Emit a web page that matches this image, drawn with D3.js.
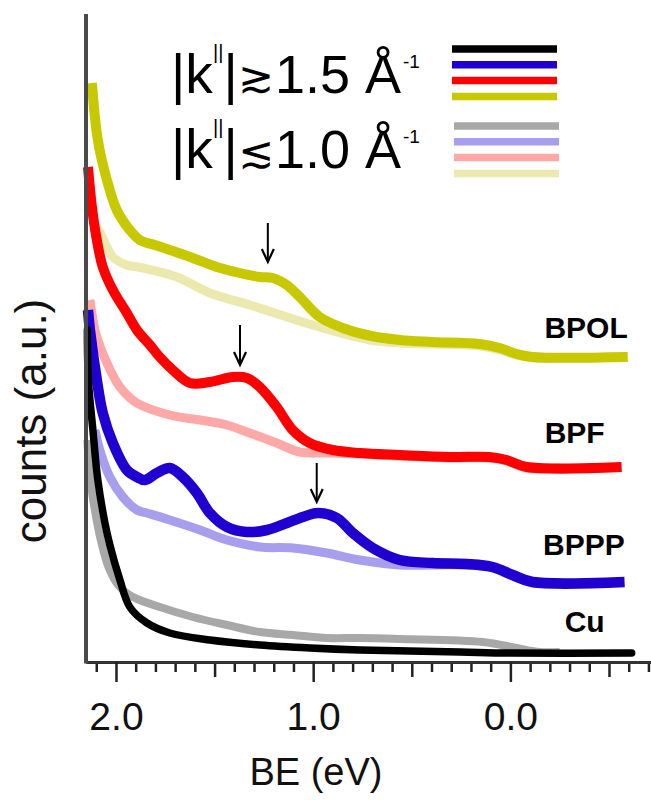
<!DOCTYPE html>
<html>
<head>
<meta charset="utf-8">
<script src="https://cdn.jsdelivr.net/npm/d3@7"></script>
<style>
  body { margin: 0; background: #fff; }
  svg { display: block; font-family: "Liberation Sans", Arial, sans-serif; }
</style>
</head>
<body>
<script>
"use strict";

// spectra, [BE (eV), counts (a.u.)]; hi = |k| >~ 1.5, lo = |k| <~ 1.0
var bpol_hi = [[2.122,57.9],[2.092,52.2],[2.046,48.2],[1.996,45.2],[1.930,43.2],[1.879,42.2],[1.803,41.7],[1.727,41.2],[1.610,40.4],[1.489,39.5],[1.372,38.9],[1.271,38.5],[1.205,38.4],[1.134,37.7],[1.068,36.5],[0.967,34.5],[0.850,33.4],[0.728,32.7],[0.561,32.2],[0.394,32.0],[0.156,31.8],[0.054,31.4],[-0.032,30.8],[-0.113,30.5],[-0.595,30.5]];
var bpol_lo = [[2.117,44.0],[2.082,43.0],[2.016,40.5],[1.945,39.7],[1.864,39.4],[1.691,38.5],[1.524,36.9],[1.321,35.7],[1.118,34.4],[0.916,33.2],[0.713,32.2],[0.561,31.9],[0.394,31.8],[0.156,31.6],[0.054,31.2],[-0.032,30.7],[-0.113,30.4],[-0.250,30.4]];
var bpf_hi = [[2.142,49.5],[2.122,45.5],[2.097,42.2],[2.067,39.5],[2.016,37.2],[1.945,34.9],[1.894,33.2],[1.828,31.7],[1.778,30.5],[1.712,29.2],[1.625,27.9],[1.524,28.0],[1.407,28.5],[1.336,28.4],[1.271,27.5],[1.185,25.5],[1.104,23.2],[1.018,21.9],[0.900,21.2],[0.764,20.9],[0.561,20.7],[0.308,20.5],[0.105,20.5],[0.019,20.2],[-0.083,19.5],[-0.564,19.5]];
var bpf_lo = [[2.132,36.2],[2.107,33.2],[2.092,32.2],[2.046,29.9],[1.980,27.5],[1.894,25.9],[1.727,24.7],[1.574,24.2],[1.437,23.7],[1.336,23.0],[1.185,21.9],[1.068,21.0],[0.916,20.9],[0.764,20.8],[0.561,20.6],[0.308,20.4],[0.105,20.4],[0.019,20.1],[-0.083,19.4],[-0.250,19.4]];
var bppp_hi = [[2.142,35.2],[2.132,33.2],[2.097,28.2],[2.067,24.9],[2.016,21.9],[1.945,19.2],[1.894,18.5],[1.853,18.2],[1.793,18.9],[1.727,19.4],[1.661,18.5],[1.590,16.9],[1.524,14.9],[1.437,13.5],[1.336,13.0],[1.234,13.2],[1.133,13.9],[1.052,14.5],[0.976,14.9],[0.880,14.4],[0.799,12.9],[0.698,11.4],[0.561,10.2],[0.394,9.9],[0.222,9.8],[0.090,9.5],[-0.012,8.7],[-0.113,8.0],[-0.579,8.0]];
var bppp_lo = [[2.107,23.2],[2.082,21.2],[2.031,18.5],[1.965,16.5],[1.894,15.2],[1.843,14.9],[1.727,14.2],[1.574,13.2],[1.437,12.2],[1.270,11.5],[1.103,11.4],[0.931,10.9],[0.764,10.2],[0.561,9.7],[0.394,9.7],[0.222,9.7],[0.090,9.4],[-0.012,8.6],[-0.113,7.9],[-0.250,7.9]];
var cu_hi = [[2.145,33.2],[2.140,28.2],[2.117,23.2],[2.092,18.2],[2.056,13.9],[2.031,11.7],[1.980,8.2],[1.930,5.5],[1.843,3.9],[1.727,2.9],[1.524,2.2],[1.270,1.7],[1.017,1.4],[0.764,1.2],[0.256,1.0],[0.004,0.9],[-0.615,0.9]];
var cu_lo = [[2.145,22.2],[2.132,18.6],[2.107,15.2],[2.077,12.2],[2.036,9.4],[1.985,7.6],[1.914,6.5],[1.778,5.5],[1.610,4.5],[1.437,3.7],[1.270,3.0],[1.103,2.7],[0.931,2.4],[0.764,2.4],[0.561,2.3],[0.140,2.0],[-0.032,1.4],[-0.148,1.0],[-0.250,1.0]];

// sample names and where their labels sit (right end, BE / counts)
var samples = ['BPOL', 'BPF', 'BPPP', 'Cu'];
var label_be = [-0.595, -0.478, -0.580, -0.478];
var label_counts = [32.4, 21.9, 10.7, 3.0];

// arrows marking the interface state: BE, top and tip in counts
var arrow_be = [1.230, 1.371, 0.982];
var arrow_top = [43.9, 33.7, 19.9];
var arrow_tip = [40.0, 29.7, 16.0];

var colors_hi = ['#000000', '#1f00d0', '#ff0000', '#c8c800'];
var colors_lo = ['#a8a8a8', '#a89eee', '#ffa8a8', '#ece9ae'];

var x_major = [2.0, 1.0, 0.0];

function draw() {
  var width = 651,
    height = 800;

  var svg = d3.select('body').append('svg')
    .attr('width', width)
    .attr('height', height);

  var x = d3.scaleLinear()
    .domain([2.152, -0.713])
    .range([86, 651]);

  var y = d3.scaleLinear()
    .domain([0, 65])
    .range([662, 12]);

  var line = d3.line()
    .x(d => x(d[0]))
    .y(d => y(d[1]))
    .curve(d3.curveCatmullRom.alpha(0.5));

  // curves: pale ones underneath, then the dark ones
  var lo = [
    {data: bpol_lo, color: colors_lo[3], w: 9},
    {data: bpf_lo, color: colors_lo[2], w: 9},
    {data: bppp_lo, color: colors_lo[1], w: 9},
    {data: cu_lo, color: colors_lo[0], w: 8}
  ];
  var hi = [
    {data: bpol_hi, color: colors_hi[3], w: 10, cap: 'butt'},
    {data: bpf_hi, color: colors_hi[2], w: 10, cap: 'butt'},
    {data: bppp_hi, color: colors_hi[1], w: 10.5, cap: 'butt'},
    {data: cu_hi, color: colors_hi[0], w: 7.5, cap: 'round'}
  ];

  svg.append('g').attr('class', 'lo')
    .selectAll('path').data(lo).enter()
    .append('path')
      .attr('d', d => line(d.data))
      .attr('fill', 'none')
      .attr('stroke', d => d.color)
      .attr('stroke-width', d => d.w)
      .attr('stroke-linejoin', 'round');

  svg.append('g').attr('class', 'hi')
    .selectAll('path').data(hi).enter()
    .append('path')
      .attr('d', d => line(d.data))
      .attr('fill', 'none')
      .attr('stroke', d => d.color)
      .attr('stroke-width', d => d.w)
      .attr('stroke-linecap', d => d.cap)
      .attr('stroke-linejoin', 'round');

  // axes ----------------------------------------------------
  var ticks_minor = d3.range(-7, 22).map(i => i / 10)
    .filter(v => Math.abs(v * 2 - Math.round(v * 2)) > 1e-6);
  var ticks_half = [1.5, 0.5, -0.5];

  var g_minor = svg.append('g')
    .attr('transform', `translate(0, ${y(0)})`)
    .call(d3.axisBottom(x).tickValues(ticks_minor).tickSize(10).tickFormat('').tickSizeOuter(0));
  var g_half = svg.append('g')
    .attr('transform', `translate(0, ${y(0)})`)
    .call(d3.axisBottom(x).tickValues(ticks_half).tickSize(15).tickFormat('').tickSizeOuter(0));
  var g_major = svg.append('g')
    .attr('transform', `translate(0, ${y(0)})`)
    .call(d3.axisBottom(x).tickValues(x_major).tickSize(20).tickPadding(20)
      .tickFormat(d3.format('.1f')).tickSizeOuter(0));

  [g_minor, g_half, g_major].forEach(g => {
    g.select('.domain').attr('stroke', '#333').attr('stroke-width', 3);
    g.selectAll('.tick line').attr('stroke', '#222').attr('stroke-width', 2.5);
  });
  g_major.selectAll('.tick text')
    .attr('font-size', 39)
    .attr('font-family', '"Liberation Sans", Arial, sans-serif')
    .attr('fill', '#111');

  // left axis, no ticks
  svg.append('line')
    .attr('x1', x.range()[0]).attr('x2', x.range()[0])
    .attr('y1', y(64.8)).attr('y2', y(0) + 1.5)
    .attr('stroke', '#4a4a4a')
    .attr('stroke-width', 4);

  svg.append('text')
    .attr('x', 316).attr('y', 785)
    .attr('text-anchor', 'middle')
    .attr('font-size', 38)
    .attr('fill', '#111')
    .text('BE (eV)');

  svg.append('text')
    .attr('transform', 'translate(46, 421) rotate(-90)')
    .attr('text-anchor', 'middle')
    .attr('font-size', 44)
    .attr('fill', '#111')
    .text('counts (a.u.)');

  // sample labels
  svg.append('g').selectAll('text').data(samples).enter()
    .append('text')
      .attr('x', (d, i) => x(label_be[i]))
      .attr('y', (d, i) => y(label_counts[i]))
      .attr('text-anchor', 'end')
      .attr('font-size', 30)
      .attr('font-weight', 'bold')
      .attr('fill', '#000')
      .text(d => d);

  // arrows
  var arrows = svg.append('g').selectAll('g').data(arrow_be).enter()
    .append('g');
  arrows.append('line')
    .attr('x1', d => x(d)).attr('x2', d => x(d))
    .attr('y1', (d, i) => y(arrow_top[i]))
    .attr('y2', (d, i) => y(arrow_tip[i]) - 2)
    .attr('stroke', '#000')
    .attr('stroke-width', 2);
  arrows.append('path')
    .attr('d', (d, i) => {
      var ax = x(d), ay = y(arrow_tip[i]);
      return `M${ax - 6},${ay - 13} L${ax},${ay} L${ax + 6},${ay - 13}`;
    })
    .attr('fill', 'none')
    .attr('stroke', '#000')
    .attr('stroke-width', 2.2);

  // legend --------------------------------------------------
  var legend = svg.append('g').attr('class', 'legend');

  var rows = [
    {y: 93, sym: '\u2273', val: '1.5 \u00c5', lines: colors_hi, ly: 49, lx: 452},
    {y: 168, sym: '\u2272', val: '1.0 \u00c5', lines: colors_lo, ly: 126, lx: 454}
  ];

  rows.forEach(r => {
    var t = legend.append('text').attr('fill', '#000');
    t.append('tspan').attr('x', 171).attr('y', r.y).attr('font-size', 55).text('|k');
    t.append('tspan').attr('x', 213).attr('y', r.y - 34).attr('font-size', 20).text('||');
    t.append('tspan').attr('x', 223.5).attr('y', r.y).attr('font-size', 55).text('|');
    t.append('tspan').attr('x', 238).attr('y', r.y - 1)
      .attr('font-size', 43)
      .attr('font-family', '"DejaVu Sans", sans-serif')
      .text(r.sym);
    t.append('tspan').attr('x', 275).attr('y', r.y).attr('font-size', 54).text(r.val);
    t.append('tspan').attr('x', 403).attr('y', r.y - 25).attr('font-size', 19).text('-1');

    legend.append('g').selectAll('line').data(r.lines).enter()
      .append('line')
        .attr('x1', r.lx).attr('x2', r.lx + 105)
        .attr('y1', (d, i) => r.ly + i * 15.8)
        .attr('y2', (d, i) => r.ly + i * 15.8)
        .attr('stroke', d => d)
        .attr('stroke-width', 7.5);
  });
}

draw();
</script>
</body>
</html>
